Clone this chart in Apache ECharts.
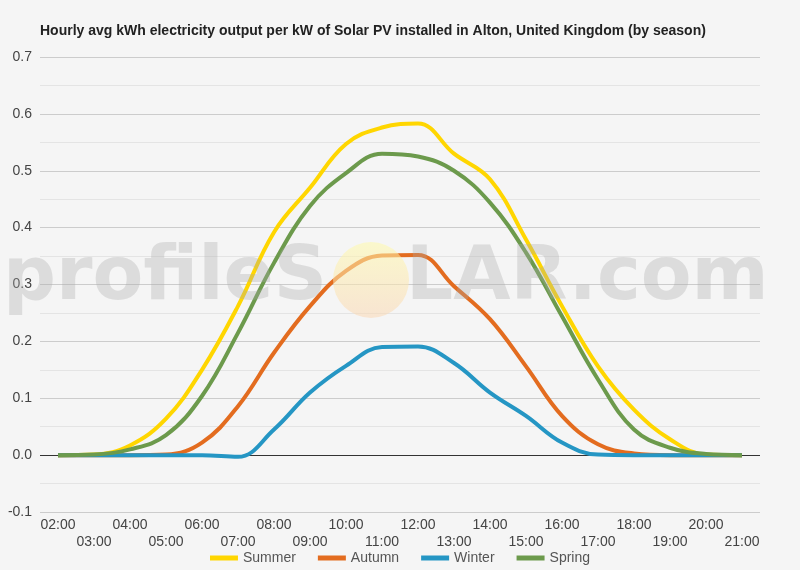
<!DOCTYPE html>
<html>
<head>
<meta charset="utf-8">
<script src="https://cdn.jsdelivr.net/npm/echarts@6/dist/echarts.min.js"></script>
<style>
  html, body { margin: 0; padding: 0; background: #f5f5f5; }
  #chart { width: 800px; height: 570px; }
</style>
</head>
<body>
<div id="chart"></div>
<script>
var hours = ['02:00','03:00','04:00','05:00','06:00','07:00','08:00','09:00','10:00','11:00',
             '12:00','13:00','14:00','15:00','16:00','17:00','18:00','19:00','20:00','21:00'];

var summer = [0, 0.001, 0.017, 0.064, 0.15, 0.262, 0.392, 0.47, 0.547, 0.576,
              0.583, 0.53, 0.485, 0.379, 0.262, 0.156, 0.08, 0.028, 0.001, 0];
var autumn = [0, 0, 0, 0.001, 0.022, 0.086, 0.18, 0.262, 0.324, 0.351,
              0.352, 0.297, 0.239, 0.156, 0.069, 0.019, 0.003, 0, 0, 0];
var winter = [0, 0, 0, 0, 0, -0.003, 0.045, 0.11, 0.157, 0.19,
              0.191, 0.162, 0.11, 0.069, 0.022, 0.001, 0, 0, 0, 0];
var spring = [0, 0.001, 0.01, 0.035, 0.104, 0.215, 0.338, 0.438, 0.496, 0.53,
              0.525, 0.5, 0.444, 0.356, 0.244, 0.133, 0.045, 0.013, 0.002, 0];

var yTicks = [-0.1, 0, 0.1, 0.2, 0.3, 0.4, 0.5, 0.6, 0.7];

function echart1() {
    var myChart = echarts.init(document.getElementById('chart'));
    var font = '"Liberation Sans", Arial, sans-serif';
    var wmFont = 'bold 74px "DejaVu Sans", sans-serif';
    option = {
        backgroundColor: '#f5f5f5',
        animation: false,
        title: {
            text: 'Hourly avg kWh electricity output per kW of Solar PV installed in Alton, United Kingdom (by season)',
            left: 35,
            top: 19,
            textStyle: { fontSize: 14, fontWeight: 'bold', color: '#222', fontFamily: font }
        },
        color: ['#FFD600', '#E36C1F', '#2596C4', '#6C9A4C'],
        legend: {
            data: ['Summer', 'Autumn', 'Winter', 'Spring'],
            bottom: 0,
            icon: 'rect',
            itemWidth: 28,
            itemHeight: 5,
            itemGap: 22,
            textStyle: { fontSize: 14, color: '#555', fontFamily: font }
        },
        // watermark drawn over the plot, semi transparent
        graphic: [
            {
                type: 'text', left: 3, top: 243, z: 100, silent: true,
                style: { text: 'profileS', font: wmFont, fill: 'rgba(170,170,170,0.33)' }
            },
            {
                type: 'circle', shape: { cx: 371, cy: 280, r: 38 }, z: 100, silent: true,
                style: {
                    fill: new echarts.graphic.LinearGradient(0, 0, 0, 1, [
                        { offset: 0, color: 'rgba(255,250,170,0.55)' },
                        { offset: 1, color: 'rgba(250,215,180,0.55)' }
                    ])
                }
            },
            {
                type: 'text', left: 406, top: 243, z: 100, silent: true,
                style: { text: 'LAR.com', font: wmFont, fill: 'rgba(170,170,170,0.33)' }
            }
        ],
        grid: {
            top: 57,
            left: 40,
            right: 40,
            bottom: 58
        },
        xAxis: {
            type: 'category',
            boundaryGap: true,
            data: hours,
            axisLine: { show: false },
            axisTick: { show: false },
            axisLabel: {
                interval: 0,
                color: '#444',
                fontSize: 14,
                fontFamily: font,
                lineHeight: 17,
                margin: 5,
                formatter: function (v, i) { return i % 2 ? '\n' + v : v; }
            }
        },
        yAxis: {
            type: 'value',
            min: yTicks[0],
            max: yTicks[yTicks.length - 1],
            interval: 0.1,
            axisLine: { show: false },
            axisTick: { show: false },
            axisLabel: {
                color: '#444',
                fontSize: 14,
                fontFamily: font,
                margin: 8,
                formatter: function (v) { return Math.abs(v) < 1e-9 ? '0.0' : v.toFixed(1); }
            },
            splitLine: {
                lineStyle: { color: ['#cccccc', '#333333', '#cccccc', '#cccccc', '#cccccc', '#cccccc', '#cccccc', '#cccccc', '#cccccc'] }
            },
            minorTick: { show: false, splitNumber: 2 },
            minorSplitLine: { show: true, lineStyle: { color: '#e4e4e4' } }
        },
        series: [
            { name: 'Summer', type: 'line', smooth: 0.4, symbol: 'none', z: 5, lineStyle: { width: 4 }, data: summer },
            { name: 'Autumn', type: 'line', smooth: 0.4, symbol: 'none', z: 5, lineStyle: { width: 4 }, data: autumn },
            { name: 'Winter', type: 'line', smooth: 0.4, symbol: 'none', z: 5, lineStyle: { width: 4 }, data: winter },
            { name: 'Spring', type: 'line', smooth: 0.4, symbol: 'none', z: 5, lineStyle: { width: 4 }, data: spring }
        ]
    };
    myChart.setOption(option);
}

echart1();
</script>
</body>
</html>
